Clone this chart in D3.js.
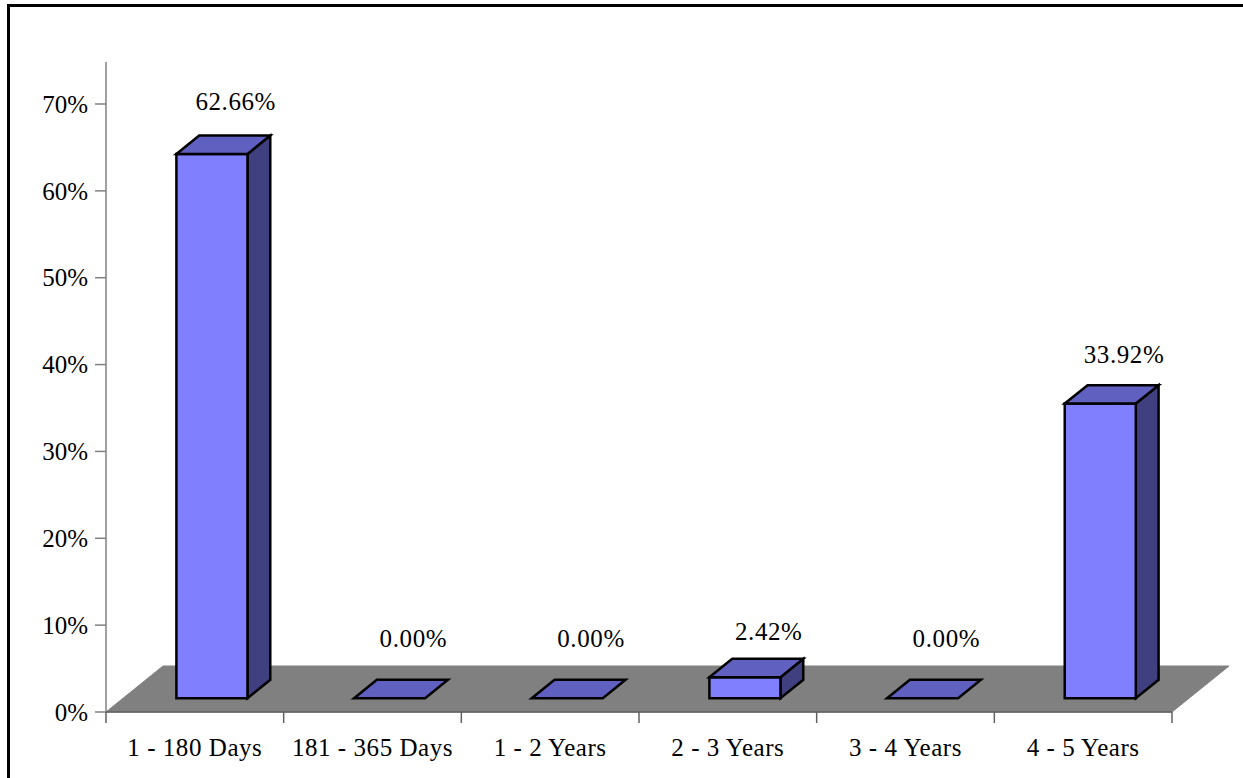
<!DOCTYPE html>
<html><head><meta charset="utf-8">
<script src="https://cdn.jsdelivr.net/npm/d3@7"></script>
<style>html,body{margin:0;padding:0;background:#fff;overflow:hidden}</style>
</head><body>
<svg id="chart" width="1243" height="778"></svg>
<script>
const categories = ["1 - 180 Days","181 - 365 Days","1 - 2 Years","2 - 3 Years","3 - 4 Years","4 - 5 Years"];
const values = [62.66, 0.00, 0.00, 2.42, 0.00, 33.92];
const labels = ["62.66%","0.00%","0.00%","2.42%","0.00%","33.92%"];
const yTicks = [0,10,20,30,40,50,60,70];

const svg = d3.select("#chart");
const font = "'Liberation Serif','Times New Roman',serif";
const fs = 25;

svg.append("rect").attr("x",8.5).attr("y",5.5).attr("width",1300).attr("height",900)
  .attr("fill","#fff").attr("stroke","#000").attr("stroke-width",3);

const x0 = 106, x1 = 1172, yBase = 712;
const x = d3.scaleBand().domain(categories).range([x0, x1]);
const y = d3.scaleLinear().domain([0, 70]).range([yBase, 104]);
const DX = 57, DY = -46;      // floor depth
const f0 = 0.3, f1 = 0.7;     // bar depth fractions

// floor
svg.append("path")
  .attr("d", `M${x0},${yBase}L${x0+DX},${yBase+DY}L${x1+DX},${yBase+DY}L${x1},${yBase}Z`)
  .attr("fill","#808080").attr("stroke","#808080");

// y axis
const ax = svg.append("g");
ax.append("line").attr("x1",x0).attr("x2",x0).attr("y1",62).attr("y2",yBase)
  .attr("stroke","#808080").attr("stroke-width",1.5);
yTicks.forEach(t => {
  ax.append("line").attr("x1",x0-11).attr("x2",x0).attr("y1",y(t)).attr("y2",y(t))
    .attr("stroke","#808080").attr("stroke-width",1.5);
  ax.append("text").attr("x",x0-18).attr("y",y(t)).attr("dy","0.35em")
    .attr("text-anchor","end").attr("font-family",font).attr("font-size",fs)
    .text(t + "%");
});

// x axis
svg.append("line").attr("x1",x0).attr("x2",x1).attr("y1",yBase).attr("y2",yBase)
  .attr("stroke","#606060").attr("stroke-width",1.5);
const bounds = categories.map(c => x(c)).concat([x1]);
bounds.forEach(b => {
  svg.append("line").attr("x1",b).attr("x2",b).attr("y1",yBase).attr("y2",yBase+11)
    .attr("stroke","#606060").attr("stroke-width",1.5);
});
categories.forEach(c => {
  svg.append("text").attr("x", x(c)+x.bandwidth()/2).attr("y", 756)
    .attr("text-anchor","middle").attr("font-family",font).attr("font-size",fs)
    .attr("letter-spacing",0.55).text(c);
});

// bars
const bw = x.bandwidth()*0.4;
const ox0 = DX*f0, oy0 = DY*f0, ox1 = DX*f1, oy1 = DY*f1;
const ddx = ox1-ox0, ddy = oy1-oy0;
categories.forEach((c,i) => {
  const v = values[i];
  const L = x(c) + x.bandwidth()*0.3 + ox0;
  const R = L + bw;
  const B = y(0) + oy0;
  const T = y(v) + oy0;
  const g = svg.append("g").attr("stroke","#000").attr("stroke-width",2.5).attr("stroke-linejoin","miter");
  if (v > 0) {
    g.append("path").attr("d",`M${R},${T}L${R+ddx},${T+ddy}L${R+ddx},${B+ddy}L${R},${B}Z`).attr("fill","#404080");
    g.append("path").attr("d",`M${L},${T}H${R}V${B}H${L}Z`).attr("fill","#8080FF");
  }
  g.append("path").attr("d",`M${L},${T}L${L+ddx},${T+ddy}H${R+ddx}L${R},${T}Z`).attr("fill","#6060C0");
  const backTop = T + ddy;
  const ly = Math.min(backTop - 18 - v*0.12, 647);
  svg.append("text").attr("x", (L+R)/2 + ddx + 1).attr("y", ly)
    .attr("text-anchor","middle").attr("font-family",font).attr("font-size",fs)
    .attr("letter-spacing",0.6).text(labels[i]);
});
</script>
</body></html>
